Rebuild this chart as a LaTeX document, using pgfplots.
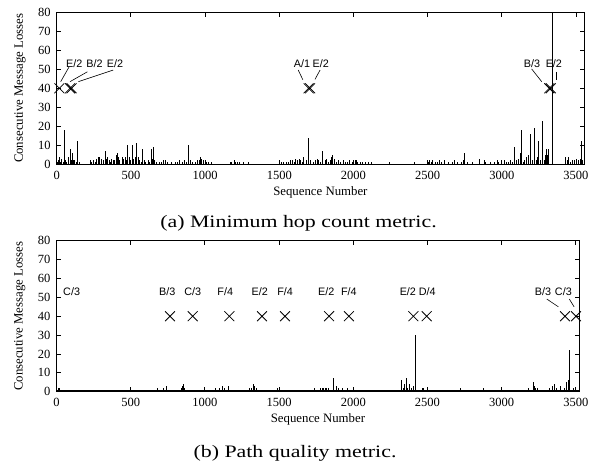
\documentclass[border=0pt]{standalone}
\usepackage{fontspec}
\setmainfont{Liberation Serif}
\newfontfamily\capfont[FakeStretch=1.25]{Liberation Serif}
\newfontfamily\annfont{Liberation Sans}
\usepackage{pgfplots}
\pgfplotsset{compat=1.18}
\tikzset{ann/.style={font=\annfont\fontsize{10.8}{12}\selectfont, anchor=center, inner sep=0pt}}
\pgfplotsset{
  lossaxis/.style={
    scale only axis,
    xmin=0, ymin=0, ymax=80,
    xtick={0,500,...,3500}, ytick={0,10,...,80},
    tick align=inside, major tick length=4.5pt,
    tick style={black, line width=0.8pt},
    axis line style={line width=0.9pt},
    ticklabel style={font=\fontsize{12.5}{13}\selectfont},
    xticklabel style={yshift=-3pt},
    yticklabel style={xshift=-2.5pt},
    /pgf/number format/assume math mode=true,
    /pgf/number format/1000 sep={},
    xlabel={Sequence Number},
    ylabel={Consecutive Message Losses},
    every axis x label/.style={at={(axis description cs:0.5,0)}, anchor=center, yshift=-28pt, font=\fontsize{12.8}{14}\selectfont},
    clip=true,
  },
  lead/.style={black, line width=0.6pt, forget plot},
  spikes/.style={ycomb, black, line width=0.8pt, mark=none},
  crosses/.style={only marks, mark=x, mark size=7pt, black, mark options={line width=0.8pt}},
}
\begin{document}
\begin{tikzpicture}
\path[use as bounding box] (0,0) rectangle (597pt,463pt);
% ---------------- (a) ----------------
\begin{axis}[lossaxis, at={(56.7pt,298.7pt)}, anchor=south west,
  width=527.3pt, height=152pt, xmax=3554,
  every axis y label/.style={at={(axis description cs:-0.0696,0.5)}, rotate=90, anchor=center, font=\fontsize{12.8}{14}\selectfont}]
\addplot[spikes] coordinates {
(5,1)(12,2)(17,4)(25,1)(35,3)(45,1)(51,18)(60,2)(68,1)(80,4)(90,8)(97,2)(107,6)(115,2)(122,2)(130,1)(139,12)(150,1)
(225,2)(235,1)(250,2)(262,1)(270,3)(280,4)(290,4)(300,3)(312,2)(326,7)(335,3)(345,4)(355,2)(365,1)(372,3)(380,2)(392,2)(400,5)(406,6)(415,4)(425,2)(440,4)(450,3)(460,4)(470,2)(478,10)(490,4)(500,2)(510,10)(520,3)(530,4)(539,11)(550,4)(560,2)(570,1)(577,8)(590,2)(600,1)(615,2)(625,1)(636,8)(643,3)(649,9)(660,2)(672,1)(690,1)(705,1)(718,2)(730,2)(745,1)(775,1)(800,1)(815,1)(830,2)(845,1)(860,2)(875,1)(887,10)(900,2)(915,1)(935,1)(950,2)(960,2)(968,4)(978,3)(990,2)(1000,2)(1012,1)(1025,1)(1040,1)
(1170,1)(1180,1)(1195,2)(1205,1)(1215,1)(1230,1)(1260,1)(1295,1)
(1500,2)(1515,1)(1530,1)(1550,1)(1565,1)(1575,2)(1590,2)(1600,1)(1610,3)(1620,2)(1634,3)(1645,2)(1655,1)(1665,4)(1680,2)(1696,14)(1712,2)(1730,1)(1745,2)(1755,3)(1765,2)(1780,1)(1793,7)(1808,2)(1820,3)(1830,1)(1845,2)(1852,4)(1859,5)(1870,3)(1885,1)(1900,2)(1915,1)(1930,2)(1945,1)(1960,1)(1975,2)(1990,1)(2000,2)(2010,2)(2020,2)(2030,1)(2045,1)(2060,1)(2080,1)(2100,1)(2120,1)
(2240,1)(2409,1)(2505,1)(2515,2)(2525,1)(2535,2)(2550,1)(2565,1)(2580,2)(2590,1)(2611,2)(2640,1)(2665,1)(2680,2)(2700,1)(2730,1)(2740,2)(2747,6)(2765,1)(2800,1)(2850,3)(2880,2)(2890,1)(2925,1)(2950,1)(2970,2)(2980,1)(3000,1)(3020,2)(3030,1)(3045,1)(3060,2)(3072,1)(3084,9)(3100,2)(3110,3)(3123,6)(3131,18)(3145,1)(3155,2)(3163,4)(3180,5)(3195,16)(3207,2)(3217,19)(3230,2)(3240,4)(3249,12)(3260,2)(3271,23)(3285,2)(3293,5)(3298,8)(3305,5)(3313,8)(3340,85)
(3430,4)(3440,2)(3448,4)(3460,1)(3475,2)(3490,2)(3505,3)(3515,2)(3528,3)(3538,12)(3546,2)
};
\addplot[crosses] coordinates {(18,40)(90,40)(100,40)(1698,40)(1708,40)(3320,40)(3330,40)};
\addplot[lead] coordinates {(83,51.2)(27,43.5)};
\addplot[lead] coordinates {(207,48.7)(90,43.5)};
\addplot[lead] coordinates {(381,49.6)(146,43.5)};
\addplot[lead] coordinates {(1628,49.6)(1659,44.5)};
\addplot[lead] coordinates {(1775,49.6)(1741,44.7)};
\addplot[lead] coordinates {(3201,50.2)(3269,43.5)};
\addplot[lead] coordinates {(3370,48.7)(3370,44.4)};
\node[ann] at (axis cs:118,53.2) {E/2};
\node[ann] at (axis cs:255,53.2) {B/2};
\node[ann] at (axis cs:393,53.2) {E/2};
\node[ann] at (axis cs:1653,53.2) {A/1};
\node[ann] at (axis cs:1780,53.2) {E/2};
\node[ann] at (axis cs:3204,53.2) {B/3};
\node[ann] at (axis cs:3351,53.2) {E/2};
\end{axis}
\node[font=\capfont\fontsize{17.5}{19}\selectfont, anchor=base, inner sep=0pt] at (298.5pt,235pt) {(a) Minimum hop count metric.};
% ---------------- (b) ----------------
\begin{axis}[lossaxis, at={(56.5pt,71.3pt)}, anchor=south west,
  width=522.9pt, height=151pt, xmax=3524,
  every axis y label/.style={at={(axis description cs:-0.0702,0.5)}, rotate=90, anchor=center, font=\fontsize{12.8}{14}\selectfont}]
\addplot[black, line width=3pt, forget plot] coordinates {(0,0)(3524,0)};
\addplot[spikes] coordinates {
(10,2)(20,2)(30,1)(45,1)(60,1)(80,1)(100,1)(120,1)(140,1)(160,1)(175,1)(190,1)(210,1)(235,1)(260,1)(300,1)(330,1)(350,1)(400,1)(430,1)(470,1)(500,1)(530,1)(560,1)(590,1)(620,1)(650,1)(680,2)(700,1)(720,2)(743,3)(760,1)(790,1)(820,1)(840,2)(848,3)(854,4)(860,2)(870,1)(890,1)(920,1)(950,1)(980,1)(1010,1)(1040,1)(1070,2)(1085,1)(1100,2)(1115,3)(1130,2)(1145,1)(1160,3)(1175,1)(1200,1)(1240,1)(1270,1)(1300,2)(1315,2)(1327,4)(1335,3)(1345,2)(1360,1)(1380,1)(1420,1)(1460,1)(1490,2)(1503,2)(1520,1)(1550,1)(1600,1)(1640,1)(1680,1)(1700,1)(1720,1)(1740,2)(1760,1)(1780,2)(1790,2)(1800,2)(1810,2)(1820,2)(1835,2)(1845,1)(1866,7)(1878,1)(1888,3)(1898,2)(1910,1)(1925,2)(1940,1)(1960,2)(1975,1)(2000,1)(2100,1)(2140,1)(2160,1)
(2327,6)(2335,2)(2343,4)(2360,7)(2368,2)(2376,4)(2384,1)(2392,2)(2402,3)(2420,30)(2445,1)(2465,2)(2475,2)(2490,1)(2530,1)(2560,1)(2600,1)(2630,1)(2660,1)(2700,1)(2720,2)(2740,1)(2780,1)(2840,1)(2860,1)(2880,2)(2910,1)(2945,1)(2980,1)(3010,1)(3040,1)(3060,1)(3100,1)(3130,1)(3150,1)(3180,2)(3214,5)(3220,3)(3228,2)(3238,2)(3250,1)(3265,1)(3280,1)(3300,1)(3320,2)(3330,1)(3345,3)(3358,4)(3368,2)(3380,1)(3395,3)(3408,1)(3425,2)(3439,5)(3450,6)(3456,22)(3470,1)(3485,2)(3495,2)(3505,1)
};
\addplot[crosses] coordinates {(765,40)(918,40)(1165,40)(1385,40)(1540,40)(1837,40)(1971,40)(2405,40)(2495,40)(3427,40)(3501,40)};
\addplot[lead] coordinates {(3304,49.1)(3382,45)};
\addplot[lead] coordinates {(3456,49.1)(3488,45)};
\node[ann] at (axis cs:102,53) {C/3};
\node[ann] at (axis cs:746,53) {B/3};
\node[ann] at (axis cs:918,53) {C/3};
\node[ann] at (axis cs:1137,53) {F/4};
\node[ann] at (axis cs:1370,53) {E/2};
\node[ann] at (axis cs:1541,53) {F/4};
\node[ann] at (axis cs:1818,53) {E/2};
\node[ann] at (axis cs:1970,53) {F/4};
\node[ann] at (axis cs:2368,53) {E/2};
\node[ann] at (axis cs:2498,53) {D/4};
\node[ann] at (axis cs:3278,53) {B/3};
\node[ann] at (axis cs:3416,53) {C/3};
\end{axis}
\node[font=\capfont\fontsize{17.5}{19}\selectfont, anchor=base, inner sep=0pt] at (295pt,5.3pt) {(b) Path quality metric.};
\end{tikzpicture}
\end{document}
